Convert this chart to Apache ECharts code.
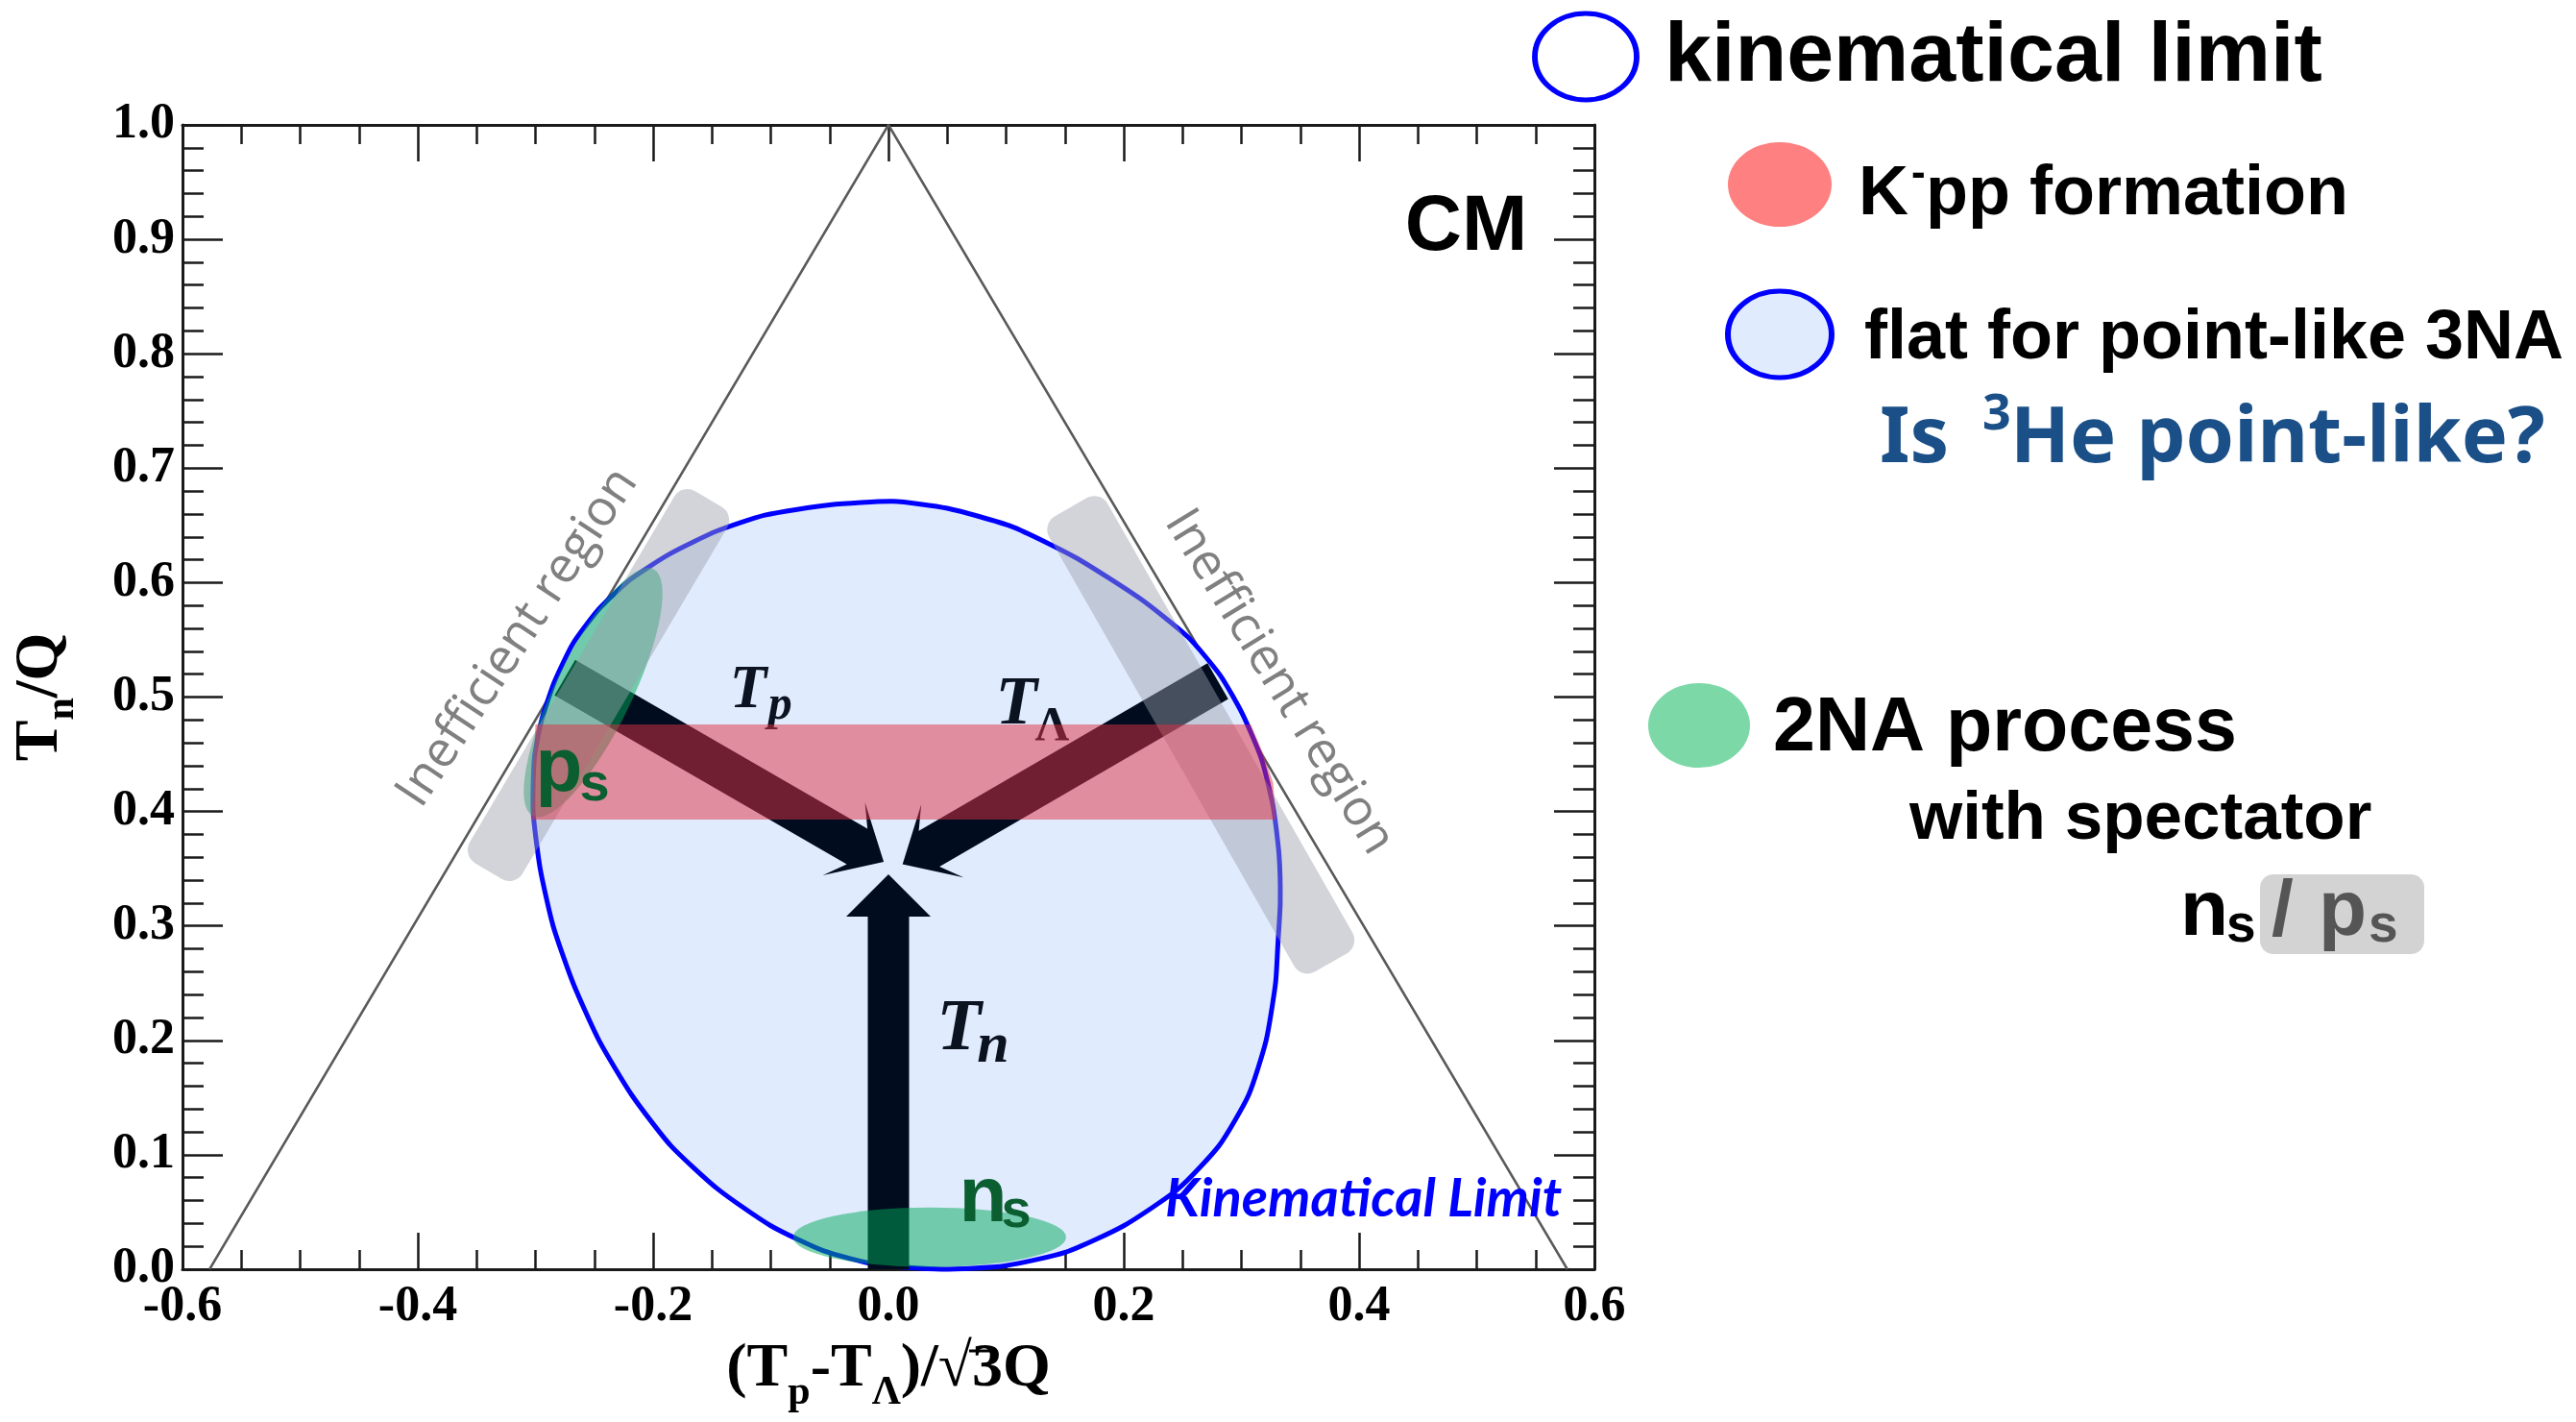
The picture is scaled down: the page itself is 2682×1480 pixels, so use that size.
<!DOCTYPE html>
<html>
<head>
<meta charset="utf-8">
<script src="https://cdn.jsdelivr.net/npm/echarts@6.0.0/dist/echarts.min.js"></script>
<style>
html,body{margin:0;padding:0;background:#ffffff;}
#chart{width:2682px;height:1480px;}
</style>
</head>
<body>
<div id="chart"></div>
<script>
// ----------------- data -----------------
const xTickLabels = ['-0.6','-0.4','-0.2','0.0','0.2','0.4','0.6'];
const yTickLabels = ['0.0','0.1','0.2','0.3','0.4','0.5','0.6','0.7','0.8','0.9','1.0'];

// Dalitz triangle (T_n/Q vs (Tp-TΛ)/√3Q)
const dalitzTriangle = [[-0.577,0],[0,1],[0.577,0]];

// kinematical limit contour (clockwise from the top)
const kinematicLimit = [
  [0.004,0.671],[0.050,0.665],[0.105,0.649],[0.159,0.622],[0.214,0.586],[0.255,0.552],
  [0.282,0.519],[0.301,0.485],[0.317,0.446],[0.327,0.404],[0.332,0.362],[0.333,0.320],
  [0.331,0.284],[0.329,0.250],[0.321,0.200],[0.306,0.152],[0.281,0.108],[0.246,0.070],
  [0.200,0.038],[0.151,0.015],[0.099,0.003],[0.045,0.000],[-0.010,0.004],[-0.055,0.016],
  [-0.100,0.038],[-0.145,0.070],[-0.185,0.108],[-0.218,0.152],[-0.246,0.200],[-0.268,0.250],
  [-0.285,0.300],[-0.296,0.350],[-0.302,0.400],[-0.301,0.446],[-0.295,0.479],[-0.284,0.513],
  [-0.268,0.547],[-0.246,0.577],[-0.219,0.603],[-0.186,0.625],[-0.146,0.645],[-0.105,0.659],
  [-0.050,0.668]
];

// K-pp formation band
const kppBand = [[-0.303,0.393],[0.329,0.393],[0.327,0.425],[0.318,0.452],[0.308,0.476],[-0.300,0.476]];

// inefficient-region bands (centre line ends)
const inefficientFrom = [[-0.153,0.673],[0.155,0.666]];
const inefficientTo   = [[-0.340,0.348],[0.376,0.268]];

// momentum arrows
const arrowTail  = [[-0.275,0.517],[0.280,0.514],[0.000,0.000]];
const arrowTip   = [[-0.004,0.356],[0.012,0.354],[0.000,0.345]];
const arrowNames = ['p','Λ','n'];
const arrowLabelAt = [[-0.135,0.505],[0.091,0.492],[0.041,0.209]];

// 2NA spectator regions (p_s, n_s)
const spectatorAt = [[-0.251,0.504],[0.035,0.028]];
const spectatorNames = ['p','n'];
const spectatorLabelAt = [[-0.300,0.437],[0.060,0.061]];

// other in-plot texts
const ineffLabelAt = [[-0.315,0.552],[0.332,0.513]];
const ineffLabelText = ['Inefficient region','Inefficient region'];
const kinLabelAt = [[0.235,0.061]];
const kinLabelText = ['Kinematical Limit'];
const cmLabelAt = [[0.491,0.910]];
const cmLabelText = ['CM'];

// ----------------- styles -----------------
const AXC = '#1a1a1a';
const ARROW = {color:'#010d1f', shaft:43, headHalf:44, headLen:48, notch:[16,16,0], tnHeadLen:44};
const TLAB = [
  {main:63, sub:50, dx:40, dy:16, subItalic:true},
  {main:71, sub:50, dx:41, dy:22, subItalic:false},
  {main:76, sub:60, dx:42, dy:17, subItalic:true}
];
const SPEC = [
  {rx:143, ry:40, rot:64*Math.PI/180},
  {rx:142, ry:31, rot:0}
];
const SPEC_LAB = [{main:80, sub:56, dx:46, dy:17},{main:82, sub:56, dx:44, dy:13}];
const BAND = {width:[64,70], color:'rgba(155,160,170,0.45)', r:16};
const INEFF_ROT = [56.5*Math.PI/180, -58.5*Math.PI/180];

const chart = echarts.init(document.getElementById('chart'), null, {renderer:'canvas', width:2682, height:1480});

function axisCommon(pos, isX, showLabel) {
  return {
    type:'value', position:pos,
    min: isX ? -0.6 : 0, max: isX ? 0.6 : 1.0, interval: isX ? 0.2 : 0.1,
    axisLine:{show:true, onZero:false, lineStyle:{color:AXC, width:3}},
    axisTick:{show:true, inside:true, length: isX ? 38 : 42, lineStyle:{color:AXC, width:2.5}},
    minorTick:{show:true, splitNumber: isX ? 4 : 5, length: isX ? 20 : 22, lineStyle:{color:AXC, width:2.5}},
    splitLine:{show:false}, minorSplitLine:{show:false},
    axisLabel:{
      show:showLabel, fontFamily:'Liberation Serif', fontWeight:'bold', fontSize:52, color:'#000',
      margin: isX ? 14 : 8,
      formatter: isX ? (v => xTickLabels[Math.round((v + 0.6) / 0.2)])
                     : (v => yTickLabels[Math.round(v / 0.1)])
    }
  };
}

const xMain = axisCommon('bottom', true, true);
xMain.name = '{b|(T}{s|p}{b|-T}{s|Λ}{b|)/√3Q}';
xMain.nameLocation = 'middle';
xMain.nameGap = 72;
xMain.nameTextStyle = {rich:{
  b:{fontFamily:'Liberation Serif', fontWeight:'bold', fontSize:64, color:'#000', verticalAlign:'bottom', padding:[0,0,14,0]},
  s:{fontFamily:'Liberation Serif', fontWeight:'bold', fontSize:42, color:'#000', verticalAlign:'bottom'}
}};
const xTop = axisCommon('top', true, false);

const yMain = axisCommon('left', false, true);
yMain.name = '{b|T}{s|n}{b|/Q}';
yMain.nameLocation = 'middle';
yMain.nameGap = 104;
yMain.nameTextStyle = {rich:{
  b:{fontFamily:'Liberation Serif', fontWeight:'bold', fontSize:64, color:'#000', verticalAlign:'bottom', padding:[0,0,12,0]},
  s:{fontFamily:'Liberation Serif', fontWeight:'bold', fontSize:42, color:'#000', verticalAlign:'bottom'}
}};
const yRight = axisCommon('right', false, false);

function txt(x, y, text, font, fill, align, rotation) {
  return {type:'text', x:x, y:y, rotation: rotation || 0,
    style:{text:text, font:font, fill:fill, align:align || 'left', verticalAlign:'middle',
           textAlign:align || 'left', textVerticalAlign:'middle'}};
}

const series = [
  // triangle
  {type:'line', data:dalitzTriangle, showSymbol:false, symbol:'none', z:1, silent:true,
   lineStyle:{color:'#5a5a5a', width:2.5}},
  // kinematical limit region
  {type:'custom', z:2, silent:true, data:[[0,0]],
   renderItem:(params, api) => ({
     type:'polygon',
     shape:{points: kinematicLimit.map(p => api.coord(p)), smooth:0.2},
     style:{fill:'#e0ebfd', stroke:'#0000ff', lineWidth:5}
   })},
  // T labels (under the pink band)
  {type:'custom', z:3, silent:true, data:arrowLabelAt,
   renderItem:(params, api) => {
     const i = params.dataIndex, s = TLAB[i];
     const p = api.coord([api.value(0), api.value(1)]);
     return {type:'group', children:[
       txt(p[0], p[1], 'T', 'italic bold ' + s.main + 'px "Liberation Serif"', '#0b1220'),
       txt(p[0] + s.dx, p[1] + s.dy, arrowNames[i], (s.subItalic ? 'italic ' : '') + 'bold ' + s.sub + 'px "Liberation Serif"', '#0b1220')
     ]};
   }},
  // arrows
  {type:'custom', z:4, silent:true,
   data: arrowTail.map((t, i) => [t[0], t[1], arrowTip[i][0], arrowTip[i][1]]),
   renderItem:(params, api) => {
     const i = params.dataIndex;
     const p0 = api.coord([api.value(0), api.value(1)]);
     const p1 = api.coord([api.value(2), api.value(3)]);
     const dx = p1[0]-p0[0], dy = p1[1]-p0[1], L = Math.hypot(dx, dy);
     const ux = dx/L, uy = dy/L, nx = -uy, ny = ux;
     const hw = ARROW.shaft/2, hh = ARROW.headHalf, nd = ARROW.notch[i];
     const hl = nd ? ARROW.headLen : ARROW.tnHeadLen;
     const bx = p1[0]-ux*hl, by = p1[1]-uy*hl;
     const jx = bx+ux*nd, jy = by+uy*nd;
     const pts = [
       [p0[0]+nx*hw, p0[1]+ny*hw], [jx+nx*hw, jy+ny*hw], [bx+nx*hh, by+ny*hh], [p1[0], p1[1]],
       [bx-nx*hh, by-ny*hh], [jx-nx*hw, jy-ny*hw], [p0[0]-nx*hw, p0[1]-ny*hw]
     ];
     return {type:'polygon', shape:{points:pts}, style:{fill:ARROW.color}};
   }},
  // spectator (2NA) regions
  {type:'custom', z:5, silent:true, data:spectatorAt,
   renderItem:(params, api) => {
     const g = SPEC[params.dataIndex];
     const p = api.coord([api.value(0), api.value(1)]);
     return {type:'circle', x:p[0], y:p[1], rotation:g.rot, scaleX:g.rx/g.ry, scaleY:1,
       shape:{cx:0, cy:0, r:g.ry}, style:{fill:'rgba(0,170,90,0.5)'}};
   }},
  // inefficient-region bands
  {type:'custom', z:6, silent:true,
   data: inefficientFrom.map((a, i) => [a[0], a[1], inefficientTo[i][0], inefficientTo[i][1]]),
   renderItem:(params, api) => {
     const i = params.dataIndex;
     const a = api.coord([api.value(0), api.value(1)]);
     const b = api.coord([api.value(2), api.value(3)]);
     const L = Math.hypot(b[0]-a[0], b[1]-a[1]), W = BAND.width[i];
     const ang = Math.atan2(b[1]-a[1], b[0]-a[0]);
     return {type:'rect', x:(a[0]+b[0])/2, y:(a[1]+b[1])/2, rotation:-ang,
       shape:{x:-L/2, y:-W/2, width:L, height:W, r:BAND.r}, style:{fill:BAND.color}};
   }},
  // K-pp formation band
  {type:'custom', z:7, silent:true, data:[[0,0]],
   renderItem:(params, api) => ({
     type:'polygon', shape:{points: kppBand.map(p => api.coord(p))},
     style:{fill:'rgba(224,47,67,0.5)'}
   })},
  // spectator labels
  {type:'custom', z:8, silent:true, data:spectatorLabelAt,
   renderItem:(params, api) => {
     const i = params.dataIndex, s = SPEC_LAB[i];
     const p = api.coord([api.value(0), api.value(1)]);
     return {type:'group', children:[
       txt(p[0], p[1], spectatorNames[i], 'bold ' + s.main + 'px "Liberation Sans"', '#0b5e30'),
       txt(p[0] + s.dx, p[1] + s.dy, 's', 'bold ' + s.sub + 'px "Liberation Sans"', '#0b5e30')
     ]};
   }},
  // inefficient region labels
  {type:'custom', z:8, silent:true, data:ineffLabelAt,
   renderItem:(params, api) => {
     const i = params.dataIndex;
     const p = api.coord([api.value(0), api.value(1)]);
     return txt(p[0], p[1], ineffLabelText[i], '52px "Open Sans"', '#808080', 'center', INEFF_ROT[i]);
   }},
  // Kinematical Limit label
  {type:'custom', z:8, silent:true, data:kinLabelAt,
   renderItem:(params, api) => {
     const p = api.coord([api.value(0), api.value(1)]);
     return txt(p[0], p[1], kinLabelText[params.dataIndex], 'italic bold 56px Lato', '#0000ff', 'left');
   }},
  // CM label
  {type:'custom', z:8, silent:true, data:cmLabelAt,
   renderItem:(params, api) => {
     const p = api.coord([api.value(0), api.value(1)]);
     return txt(p[0], p[1], cmLabelText[params.dataIndex], 'bold 82px "Liberation Sans"', '#000', 'center');
   }}
];

const F = '"Liberation Sans"';
const graphic = [
  // overbar of the square root in the x-axis title
  {type:'line', shape:{x1:1009, y1:1406, x2:1036, y2:1406}, style:{stroke:'#000', lineWidth:3}},
  // legend: kinematical limit
  {type:'circle', x:1651, y:59, scaleX:53/45, scaleY:1, shape:{cx:0, cy:0, r:45},
   style:{fill:'#ffffff', stroke:'#0000ff', lineWidth:5, strokeNoScale:true}},
  txt(1733, 60, 'kinematical limit', 'bold 88px ' + F, '#000'),
  // K-pp formation
  {type:'circle', x:1853, y:192, scaleX:54/44, scaleY:1, shape:{cx:0, cy:0, r:44}, style:{fill:'#fe8080'}},
  txt(1935, 203, 'K', 'bold 72px ' + F, '#000'),
  txt(1990, 182, '-', 'bold 44px ' + F, '#000'),
  txt(2005, 203, 'pp formation', 'bold 72px ' + F, '#000'),
  // flat for point-like 3NA
  {type:'circle', x:1853, y:348, scaleX:54/45, scaleY:1, shape:{cx:0, cy:0, r:45},
   style:{fill:'#e0ebfd', stroke:'#0000ff', lineWidth:5, strokeNoScale:true}},
  txt(1941, 353, 'flat for point-like 3NA', 'bold 72px ' + F, '#000'),
  txt(1957, 458, 'Is', 'bold 81px "Noto Sans"', '#1b4f87'),
  txt(2064, 432, '3', 'bold 52px "Noto Sans"', '#1b4f87'),
  txt(2093, 458, 'He point-like?', 'bold 81px "Noto Sans"', '#1b4f87'),
  // 2NA process
  {type:'circle', x:1769, y:755, scaleX:53/44, scaleY:1, shape:{cx:0, cy:0, r:44}, style:{fill:'#7dd8a8'}},
  txt(1846, 759, '2NA process', 'bold 79px ' + F, '#000'),
  txt(1988, 853, 'with spectator', 'bold 71px ' + F, '#000'),
  txt(2270, 950, 'n', 'bold 82px ' + F, '#000'),
  txt(2318, 965, 's', 'bold 55px ' + F, '#000'),
  {type:'rect', shape:{x:2353, y:910, width:171, height:83, r:14}, style:{fill:'#d3d3d3'}},
  txt(2365, 950, '/', 'bold 82px ' + F, '#555555'),
  txt(2414, 950, 'p', 'bold 82px ' + F, '#555555'),
  txt(2466, 965, 's', 'bold 55px ' + F, '#555555')
];

chart.setOption({
  animation:false,
  backgroundColor:'#ffffff',
  grid:{left:190, right:1022, top:130, bottom:159, containLabel:false, outerBoundsMode:'none'},
  xAxis:[xMain, xTop],
  yAxis:[yMain, yRight],
  series: series,
  graphic: graphic
});
</script>
</body>
</html>
